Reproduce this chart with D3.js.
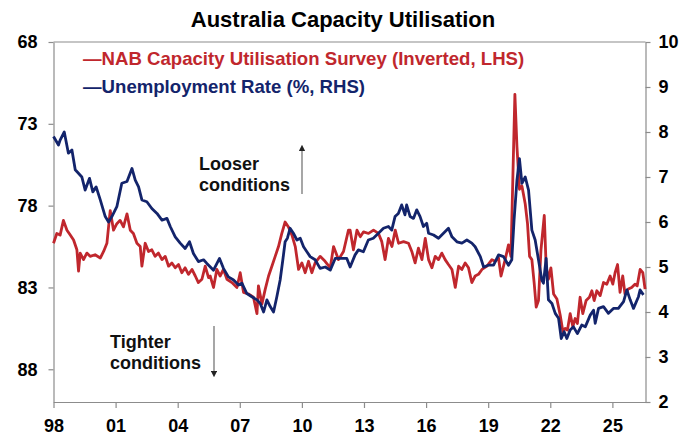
<!DOCTYPE html>
<html>
<head>
<meta charset="utf-8">
<script src="https://cdn.jsdelivr.net/npm/d3@7"></script>
<style>
  body { margin: 0; background: #fff; }
  text { font-family: "Liberation Sans", Arial, sans-serif; font-weight: bold; }
</style>
</head>
<body>
<svg id="chart"></svg>
<script>
var w = 680;
var h = 440;

// NAB capacity utilisation (%), plotted inverted on the left axis
var nabYears = [1998.00, 1998.16, 1998.32, 1998.48, 1998.65, 1998.81, 1998.97, 1999.13, 1999.21, 1999.29,
  1999.45, 1999.61, 1999.77, 2000.01, 2000.26, 2000.42, 2000.58, 2000.66, 2000.74, 2000.90,
  2001.06, 2001.22, 2001.38, 2001.55, 2001.71, 2001.86, 2002.03, 2002.19, 2002.27, 2002.43,
  2002.59, 2002.75, 2002.91, 2003.07, 2003.24, 2003.40, 2003.56, 2003.72, 2003.88, 2004.04,
  2004.20, 2004.36, 2004.52, 2004.69, 2004.85, 2005.00, 2005.17, 2005.33, 2005.49, 2005.57,
  2005.73, 2005.89, 2006.05, 2006.21, 2006.38, 2006.62, 2006.86, 2007.02, 2007.18, 2007.42,
  2007.66, 2007.83, 2007.90, 2008.07, 2008.23, 2008.39, 2008.55, 2008.71, 2008.87, 2009.03,
  2009.19, 2009.35, 2009.52, 2009.68, 2009.84, 2010.00, 2010.16, 2010.32, 2010.48, 2010.64,
  2010.88, 2011.12, 2011.37, 2011.53, 2011.77, 2012.01, 2012.25, 2012.33, 2012.49, 2012.66,
  2012.82, 2012.98, 2013.22, 2013.46, 2013.70, 2013.86, 2014.02, 2014.18, 2014.35, 2014.51,
  2014.67, 2014.91, 2015.15, 2015.31, 2015.47, 2015.63, 2015.80, 2015.96, 2016.12, 2016.28,
  2016.44, 2016.60, 2016.76, 2016.92, 2017.08, 2017.25, 2017.41, 2017.57, 2017.73, 2017.89,
  2018.05, 2018.21, 2018.37, 2018.53, 2018.70, 2018.94, 2019.18, 2019.34, 2019.50, 2019.62,
  2019.82, 2019.98, 2020.10, 2020.19, 2020.29, 2020.39, 2020.51, 2020.63, 2020.79, 2020.90,
  2021.00, 2021.11, 2021.22, 2021.32, 2021.43, 2021.55, 2021.71, 2021.80, 2021.91, 2022.03,
  2022.16, 2022.32, 2022.48, 2022.61, 2022.72, 2022.83, 2022.96, 2023.09, 2023.20, 2023.31,
  2023.44, 2023.57, 2023.73, 2023.89, 2024.01, 2024.12, 2024.25, 2024.41, 2024.57, 2024.73,
  2024.89, 2025.02, 2025.13, 2025.25, 2025.37, 2025.50, 2025.61, 2025.77, 2025.93, 2026.09,
  2026.20, 2026.34, 2026.47, 2026.58];
var nabValues = [80.3, 79.7, 79.8, 78.9, 79.5, 79.8, 80.1, 80.7, 82.0, 80.9,
  81.3, 80.9, 81.1, 81.0, 81.2, 80.8, 80.3, 79.3, 78.3, 79.5,
  79.1, 78.9, 79.3, 78.5, 79.5, 79.7, 80.3, 80.5, 81.7, 80.3,
  80.8, 80.7, 81.1, 80.9, 81.3, 81.1, 81.7, 81.5, 81.8, 81.6,
  82.1, 81.8, 82.2, 81.9, 82.3, 82.7, 82.5, 81.7, 82.4, 82.3,
  83.0, 81.9, 82.3, 81.9, 82.5, 82.7, 83.0, 82.1, 83.3, 83.4,
  83.6, 84.6, 82.9, 84.0, 83.1, 82.3, 81.7, 81.1, 80.5, 79.7,
  79.0, 79.3, 79.8, 80.5, 81.9, 81.5, 82.1, 81.4, 82.1, 81.5,
  81.1, 81.4, 81.8, 80.5, 81.3, 80.8, 79.5, 79.5, 80.7, 79.5,
  79.9, 79.6, 79.7, 79.5, 79.7, 80.2, 81.3, 80.0, 80.5, 79.5,
  80.3, 80.2, 80.3, 80.8, 81.5, 80.6, 81.3, 80.0, 81.3, 81.8,
  81.1, 81.3, 80.9, 81.3, 81.6, 81.9, 83.0, 81.7, 81.9, 81.5,
  81.8, 82.7, 82.3, 82.2, 81.9, 81.7, 81.3, 81.4, 81.2, 82.3,
  81.3, 80.4, 81.1, 76.4, 71.2, 74.4, 77.0, 76.8, 77.9, 79.1,
  81.1, 81.3, 82.7, 84.2, 83.8, 80.7, 78.6, 81.7, 82.5, 81.8,
  83.4, 83.7, 84.7, 85.7, 85.5, 85.6, 84.6, 85.4, 84.9, 85.2,
  83.6, 84.6, 83.8, 83.6, 83.2, 83.8, 83.2, 83.5, 82.7, 82.8,
  82.3, 82.8, 82.1, 81.6, 83.3, 82.3, 83.4, 83.1, 83.0, 82.8,
  82.9, 81.9, 82.1, 83.1];

// Unemployment rate (%), right axis
var urYears = [1998.00, 1998.24, 1998.32, 1998.52, 1998.72, 1998.89, 1999.05, 1999.37, 1999.53, 1999.74,
  1999.90, 2000.06, 2000.26, 2000.50, 2000.66, 2000.82, 2001.06, 2001.30, 2001.55, 2001.79,
  2001.95, 2002.11, 2002.27, 2002.51, 2002.75, 2003.00, 2003.24, 2003.48, 2003.64, 2003.88,
  2004.12, 2004.36, 2004.57, 2004.76, 2005.00, 2005.25, 2005.41, 2005.73, 2006.02, 2006.21,
  2006.45, 2006.70, 2006.94, 2007.10, 2007.34, 2007.58, 2007.83, 2007.99, 2008.15, 2008.31,
  2008.47, 2008.63, 2008.79, 2008.95, 2009.08, 2009.19, 2009.30, 2009.43, 2009.59, 2009.76,
  2009.92, 2010.08, 2010.24, 2010.40, 2010.64, 2010.88, 2011.13, 2011.37, 2011.61, 2011.85,
  2012.17, 2012.33, 2012.57, 2012.73, 2012.97, 2013.21, 2013.45, 2013.70, 2013.94, 2014.18,
  2014.34, 2014.50, 2014.66, 2014.82, 2014.98, 2015.06, 2015.23, 2015.39, 2015.55, 2015.71,
  2015.87, 2016.03, 2016.12, 2016.36, 2016.60, 2016.84, 2017.08, 2017.25, 2017.49, 2017.73,
  2017.97, 2018.21, 2018.37, 2018.62, 2018.78, 2019.01, 2019.26, 2019.50, 2019.74, 2019.98,
  2020.14, 2020.25, 2020.39, 2020.51, 2020.63, 2020.79, 2020.95, 2021.11, 2021.27, 2021.43,
  2021.59, 2021.67, 2021.80, 2021.91, 2022.08, 2022.24, 2022.40, 2022.53, 2022.67, 2022.80,
  2022.96, 2023.12, 2023.31, 2023.52, 2023.69, 2023.93, 2024.09, 2024.17, 2024.33, 2024.57,
  2024.81, 2025.05, 2025.29, 2025.54, 2025.70, 2025.86, 2026.02, 2026.26, 2026.34, 2026.50];
var urValues = [7.90, 7.71, 7.82, 8.00, 7.53, 7.60, 7.16, 7.00, 6.71, 6.97,
  6.67, 6.78, 6.49, 6.12, 6.00, 6.12, 6.34, 6.86, 6.90, 7.19,
  6.93, 6.78, 6.49, 6.45, 6.30, 6.19, 6.04, 6.08, 5.90, 5.67,
  5.53, 5.41, 5.56, 5.30, 5.12, 5.16, 5.08, 4.93, 5.19, 4.97,
  4.78, 4.71, 4.60, 4.64, 4.41, 4.34, 4.27, 4.19, 4.00, 4.27,
  4.12, 4.00, 4.34, 4.71, 5.16, 5.56, 5.64, 5.86, 5.75, 5.60,
  5.64, 5.45, 5.34, 5.23, 5.16, 4.97, 5.00, 4.93, 5.19, 5.19,
  5.19, 5.00, 5.27, 5.38, 5.34, 5.60, 5.64, 5.75, 5.86, 5.90,
  5.82, 6.12, 6.19, 6.38, 6.16, 6.38, 6.12, 6.08, 6.27, 6.12,
  5.90, 5.97, 5.75, 5.71, 5.64, 5.75, 5.86, 5.67, 5.56, 5.53,
  5.60, 5.53, 5.45, 5.23, 5.00, 5.04, 5.04, 5.27, 5.23, 5.04,
  5.16, 6.04, 6.93, 7.41, 6.86, 7.00, 6.71, 5.82, 5.60, 5.16,
  4.71, 4.64, 5.19, 4.27, 4.19, 3.97, 3.86, 3.41, 3.56, 3.41,
  3.60, 3.67, 3.52, 3.71, 3.67, 3.93, 4.04, 3.75, 4.08, 4.12,
  3.97, 4.08, 4.08, 4.23, 4.49, 4.27, 4.08, 4.34, 4.49, 4.38];

var xTicks = [1998, 2001, 2004, 2007, 2010, 2013, 2016, 2019, 2022, 2025];
var leftTicks = [68, 73, 78, 83, 88];
var rightTicks = [2, 3, 4, 5, 6, 7, 8, 9, 10];

var red = '#c0272d';
var navy = '#13246b';
var grey = '#8c8c8c';

var svg = d3.select('#chart').attr('width', w).attr('height', h);

var x = d3.scaleLinear().domain([1998, 2026.6]).range([53.5, 645.5]);
var yL = d3.scaleLinear().domain([68, 90]).range([42, 402]);
var yR = d3.scaleLinear().domain([2, 10]).range([402, 42]);

// Title
svg.append('text')
  .attr('x', 343).attr('y', 27)
  .attr('text-anchor', 'middle')
  .attr('font-size', '22px')
  .attr('fill', '#000')
  .text('Australia Capacity Utilisation');

// Plot frame (top edge)
svg.append('line')
  .attr('x1', x.range()[0]).attr('x2', x.range()[1])
  .attr('y1', yL.range()[0]).attr('y2', yL.range()[0])
  .attr('stroke', grey).attr('stroke-width', 1.2);

// Axes
var xAxis = d3.axisBottom(x).tickValues(xTicks).tickSize(6).tickSizeOuter(0)
  .tickFormat(function (d) { return d3.format('02d')(d % 100); });
var leftAxis = d3.axisLeft(yL).tickValues(leftTicks).tickSize(5).tickSizeOuter(0);
var rightAxis = d3.axisRight(yR).tickValues(rightTicks).tickSize(5).tickSizeOuter(0);

function styleAxis(g) {
  g.select('.domain').attr('stroke', grey).attr('stroke-width', 1.2);
  g.selectAll('.tick line').attr('stroke', grey).attr('stroke-width', 1.2);
  g.selectAll('.tick text')
    .attr('fill', '#000')
    .attr('font-size', '18px')
    .attr('font-family', '"Liberation Sans", Arial, sans-serif')
    .attr('font-weight', 'bold');
}

svg.append('g').attr('transform', 'translate(0,' + yL.range()[1] + ')')
  .call(xAxis).call(styleAxis)
  .selectAll('.tick text').attr('dy', '1.15em');
svg.append('g').attr('transform', 'translate(' + x.range()[0] + ',0)')
  .call(leftAxis).call(styleAxis)
  .selectAll('.tick text').attr('x', -16);
svg.append('g').attr('transform', 'translate(' + x.range()[1] + ',0)')
  .call(rightAxis).call(styleAxis)
  .selectAll('.tick text').attr('x', 13);

// Lines
var nabLine = d3.line()
  .x(function (d, i) { return x(nabYears[i]); })
  .y(function (d) { return yL(d); });
var urLine = d3.line()
  .x(function (d, i) { return x(urYears[i]); })
  .y(function (d) { return yR(d); });

svg.append('path').datum(nabValues)
  .attr('d', nabLine)
  .attr('fill', 'none').attr('stroke', red)
  .attr('stroke-width', 2.8).attr('stroke-linejoin', 'round');

svg.append('path').datum(urValues)
  .attr('d', urLine)
  .attr('fill', 'none').attr('stroke', navy)
  .attr('stroke-width', 2.8).attr('stroke-linejoin', 'round');

// Legend
svg.append('text')
  .attr('x', 83).attr('y', 65)
  .attr('font-size', '18.6px').attr('fill', red)
  .text('\u2014NAB Capacity Utilisation Survey (Inverted, LHS)');
svg.append('text')
  .attr('x', 83).attr('y', 93)
  .attr('font-size', '18.6px').attr('fill', navy)
  .text('\u2014Unemployment Rate (%, RHS)');

// Annotations
var notes = [
  { lines: ['Looser', 'conditions'], x: 199, y: 170, ax: 302, a1: 194, a2: 148 },
  { lines: ['Tighter', 'conditions'], x: 110, y: 348, ax: 214, a1: 326, a2: 374 }
];

svg.append('defs').append('marker')
  .attr('id', 'head')
  .attr('viewBox', '0 0 10 10')
  .attr('refX', 5).attr('refY', 5)
  .attr('markerWidth', 5).attr('markerHeight', 5)
  .attr('orient', 'auto')
  .append('path').attr('d', 'M0,0L10,5L0,10Z').attr('fill', '#222');

notes.forEach(function (n) {
  var t = svg.append('text')
    .attr('x', n.x).attr('y', n.y)
    .attr('font-size', '18px').attr('fill', '#111');
  n.lines.forEach(function (s, i) {
    t.append('tspan').attr('x', n.x).attr('dy', i === 0 ? 0 : 21).text(s);
  });
  svg.append('line')
    .attr('x1', n.ax).attr('x2', n.ax)
    .attr('y1', n.a1).attr('y2', n.a2)
    .attr('stroke', '#777').attr('stroke-width', 1.3)
    .attr('marker-end', 'url(#head)');
});
</script>
</body>
</html>
